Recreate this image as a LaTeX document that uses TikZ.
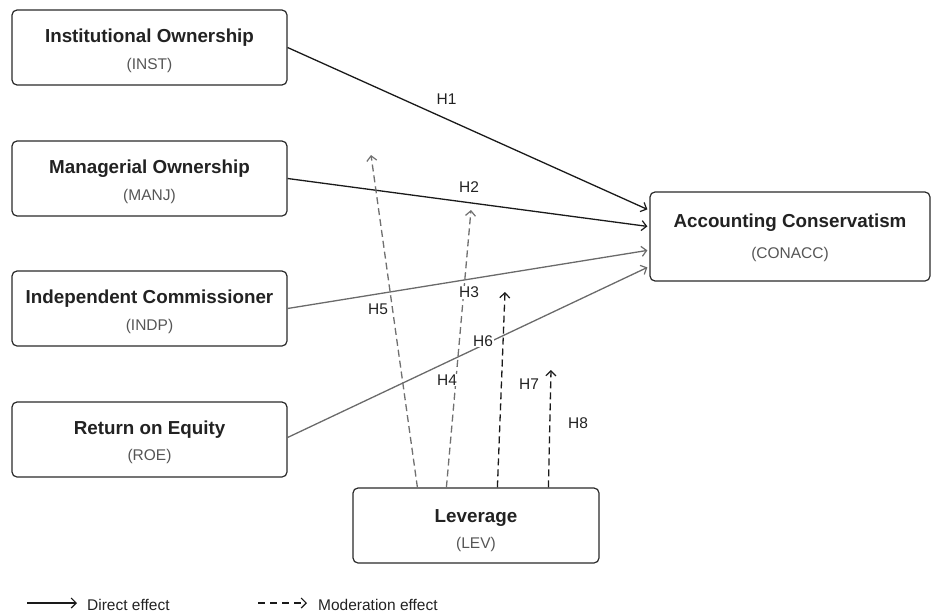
\documentclass[tikz,border=0pt]{standalone}
\usepackage{fontspec}
\setmainfont{Liberation Sans}
\usetikzlibrary{arrows.meta,calc}
\definecolor{txtdark}{HTML}{222222}
\definecolor{txtgrey}{HTML}{555555}
\definecolor{linedark}{HTML}{1A1A1A}
\definecolor{linegrey}{HTML}{6A6A6A}
\definecolor{dashgrey}{HTML}{707070}
\definecolor{boxedge}{HTML}{2A2A2A}
\tikzset{
  varbox/.style={draw=boxedge, line width=1.2pt, rounded corners=5pt, fill=white,
    minimum width=275pt, minimum height=75pt, inner sep=0pt},
  titletext/.style={anchor=base, inner sep=0pt, text=txtdark,
    font=\fontsize{18.8}{22}\selectfont\bfseries},
  subtext/.style={anchor=base, inner sep=0pt, text=txtgrey,
    font=\fontsize{15.5}{18}\selectfont},
  hlabel/.style={fill=white, inner sep=1pt, text=txtdark,
    font=\fontsize{15.5}{18}\selectfont},
  legtext/.style={anchor=west, inner sep=0pt, text=txtdark,
    font=\fontsize{15.5}{18}\selectfont},
  tip/.style={-{Straight Barb[length=5pt,width=10pt,line width=1.2pt]}},
  direct/.style={tip, line width=1.3pt, draw=linedark},
  directgrey/.style={tip, line width=1.3pt, draw=linegrey},
  moder/.style={tip, line width=1.3pt, draw=linedark, dash pattern=on 7pt off 4pt},
  modergrey/.style={tip, line width=1.3pt, draw=dashgrey, dash pattern=on 7pt off 4pt},
}
\begin{document}
\begin{tikzpicture}[x=1pt,y=-1pt]
\useasboundingbox (0,0) rectangle (932,613);

% boxes
\node[varbox] (INST) at (149.5,47.5) {};
\node[varbox] (MANJ) at (149.5,178.5) {};
\node[varbox] (INDP) at (149.5,308.5) {};
\node[varbox] (ROE) at (149.5,439.5) {};
\node[varbox, minimum width=280pt, minimum height=89pt] (CONACC) at (790,236.5) {};
\node[varbox, minimum width=246pt] (LEV) at (476,525.5) {};

% box texts
\node[titletext] (INSTt) at ($(INST.center)+(0,-5)$) {Institutional Ownership};
\node[subtext] (INSTs) at ($(INST.center)+(0,21.5)$) {(INST)};
\node[titletext] (MANJt) at ($(MANJ.center)+(0,-5)$) {Managerial Ownership};
\node[subtext] (MANJs) at ($(MANJ.center)+(0,21.5)$) {(MANJ)};
\node[titletext] (INDPt) at ($(INDP.center)+(0,-5)$) {Independent Commissioner};
\node[subtext] (INDPs) at ($(INDP.center)+(0,21.5)$) {(INDP)};
\node[titletext] (ROEt) at ($(ROE.center)+(0,-5)$) {Return on Equity};
\node[subtext] (ROEs) at ($(ROE.center)+(0,21)$) {(ROE)};
\node[titletext] (CONACCt) at ($(CONACC.center)+(0,-9.5)$) {Accounting Conservatism};
\node[subtext] (CONACCs) at ($(CONACC.center)+(0,21.5)$) {(CONACC)};
\node[titletext] (LEVt) at ($(LEV.center)+(0,-3.5)$) {Leverage};
\node[subtext] (LEVs) at ($(LEV.center)+(0,22.5)$) {(LEV)};

% direct effects
\draw[direct] (INST.east) -- ($(CONACC.north west)+(-2,18)$);
\draw[direct] (MANJ.east) -- ($(CONACC.north west)+(-2,35)$);
\draw[directgrey] (INDP.east) -- ($(CONACC.north west)+(-2,59)$);
\draw[directgrey] ($(ROE.east)+(0,-2)$) -- ($(CONACC.north west)+(-2,76)$);

% moderation effects
\coordinate (t5) at (371,155);
\coordinate (t3) at (471,210);
\coordinate (t6) at (505,292);
\coordinate (t8) at (551,370);
\draw[modergrey] ($(LEV.north west)+(65,0)$) -- (t5);
\draw[modergrey] ($(LEV.north west)+(94,0)$) -- (t3);
\draw[moder] ($(LEV.north west)+(145,0)$) -- (t6);
\draw[moder] ($(LEV.north west)+(196,0)$) -- (t8);

% hypothesis labels
\node[hlabel] (H1) at (446.5,99) {H1};
\node[hlabel] (H2) at (469,187) {H2};
\node[hlabel] (H3) at (469,292.5) {H3};
\node[hlabel] (H4) at (447,380) {H4};
\node[hlabel] (H5) at (378,309.5) {H5};
\node[hlabel] (H6) at (483,341) {H6};
\node[hlabel] (H7) at (529,384) {H7};
\node[hlabel] (H8) at (578,423) {H8};

% legend
\coordinate (la1) at (27,603);
\coordinate (la2) at (77,603);
\coordinate (lb1) at (258,603);
\coordinate (lb2) at (307,603);
\draw[direct, line width=1.1pt] (la1) -- (la2);
\draw[moder, line width=1.1pt, dash pattern=on 7pt off 5pt] (lb1) -- (lb2);
\node[legtext] (legA) at (87,604.5) {Direct effect};
\node[legtext] (legB) at (318,604.5) {Moderation effect};
\end{tikzpicture}
\end{document}
